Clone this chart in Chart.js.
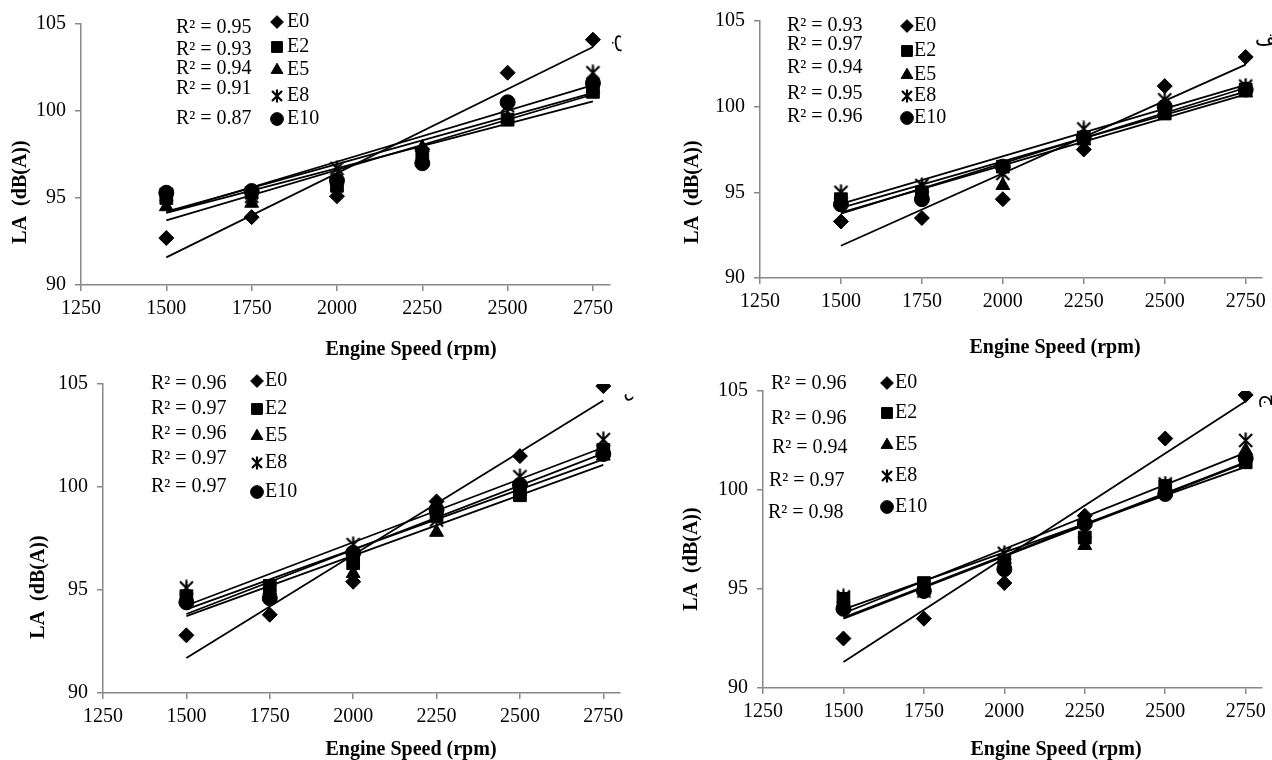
<!DOCTYPE html>
<html>
<head>
<meta charset="utf-8">
<script src="https://cdn.jsdelivr.net/npm/chart.js@4.4.0/dist/chart.umd.min.js"></script>
<style>
html, body { margin: 0; padding: 0; background: #fff; }
body { width: 1272px; height: 760px; position: relative; overflow: hidden; }
canvas { position: absolute; }
</style>
</head>
<body>
<canvas id="c1" width="640" height="360" style="left:0;top:0"></canvas>
<canvas id="c2" width="632" height="360" style="left:640px;top:0"></canvas>
<canvas id="c3" width="640" height="400" style="left:0;top:360px"></canvas>
<canvas id="c4" width="632" height="400" style="left:640px;top:360px"></canvas>
<script>
// shared axes
const speeds = [1500, 1750, 2000, 2250, 2500, 2750];
const xTicks = [1250, 1500, 1750, 2000, 2250, 2500, 2750];
const yTicks = [90, 95, 100, 105];
const fuels = ['E0', 'E2', 'E5', 'E8', 'E10'];

// panel ب (top left)
const p1E0 = [92.7, 93.9, 95.1, 97.8, 102.2, 104.1];
const p1E2 = [95.0, 95.3, 95.7, 97.5, 99.5, 101.1];
const p1E5 = [94.5, 94.7, 96.0, 97.9, 99.6, 101.3];
const p1E8 = [95.2, 95.1, 96.7, 97.4, 100.3, 102.2];
const p1E10 = [95.3, 95.4, 96.0, 97.0, 100.5, 101.6];
const p1R2 = ['0.95', '0.93', '0.94', '0.91', '0.87'];

// panel الف (top right)
const p2E0 = [93.3, 93.5, 94.6, 97.5, 101.2, 102.9];
const p2E2 = [94.6, 95.0, 96.5, 98.2, 99.6, 101.0];
const p2E5 = [94.4, 95.2, 95.4, 98.0, 99.8, 100.8];
const p2E8 = [95.0, 95.4, 96.1, 98.7, 100.4, 101.2];
const p2E10 = [94.3, 94.6, 96.5, 98.2, 100.0, 101.0];
const p2R2 = ['0.93', '0.97', '0.94', '0.95', '0.96'];

// panel د (bottom left)
const p3E0 = [92.8, 93.8, 95.4, 99.3, 101.5, 104.9];
const p3E2 = [94.7, 95.2, 96.3, 98.6, 99.6, 101.8];
const p3E5 = [94.5, 95.0, 95.8, 97.8, 99.8, 101.5];
const p3E8 = [95.1, 95.0, 97.2, 98.4, 100.5, 102.3];
const p3E10 = [94.4, 94.6, 96.8, 98.9, 100.1, 101.6];
const p3R2 = ['0.96', '0.97', '0.96', '0.97', '0.97'];

// panel ج (bottom right)
const p4E0 = [92.5, 93.5, 95.3, 98.7, 102.6, 104.8];
const p4E2 = [94.5, 95.3, 96.4, 97.6, 100.2, 101.4];
const p4E5 = [94.1, 95.1, 96.5, 97.2, 100.0, 102.0];
const p4E8 = [94.6, 94.9, 96.8, 97.9, 100.3, 102.5];
const p4E10 = [94.0, 94.9, 96.0, 98.3, 99.8, 101.6];
const p4R2 = ['0.96', '0.96', '0.94', '0.97', '0.98'];

const serif = "'Liberation Serif', 'Times New Roman', serif";

// Excel style star: an X with a vertical bar through it
function starMark(size) {
  const c = document.createElement('canvas');
  c.width = size; c.height = size;
  const g = c.getContext('2d');
  const m = 2, s = size - 2;
  g.strokeStyle = '#000';
  g.lineWidth = 2.2;
  g.beginPath();
  g.moveTo(m, m); g.lineTo(s, s);
  g.moveTo(s, m); g.lineTo(m, s);
  g.moveTo(size / 2, 0.5); g.lineTo(size / 2, size - 0.5);
  g.stroke();
  return c;
}
const starBig = starMark(17);
const starSmall = starMark(14);

const markStyle = ['rectRot', 'rect', 'triangle', starBig, 'circle'];
const legendStyle = ['rectRot', 'rect', 'triangle', starSmall, 'circle'];
const markSize = [7.5, 9, 8, 8, 7.5];

// linear trendline, same as Excel
function fit(vals) {
  const n = speeds.length;
  const mx = speeds.reduce((a, b) => a + b, 0) / n;
  const my = vals.reduce((a, b) => a + b, 0) / n;
  let sxy = 0, sxx = 0;
  speeds.forEach((x, i) => { sxy += (x - mx) * (vals[i] - my); sxx += (x - mx) * (x - mx); });
  const b = sxy / sxx, a = my - b * mx;
  return [{ x: speeds[0], y: a + b * speeds[0] }, { x: speeds[n - 1], y: a + b * speeds[n - 1] }];
}

function mark(ctx, style, r, x, y) {
  ctx.save();
  ctx.fillStyle = '#000';
  ctx.strokeStyle = '#000';
  ctx.lineWidth = 1;
  Chart.helpers.drawPoint(ctx, { pointStyle: style, radius: r, rotation: 0, borderWidth: 1 }, x, y);
  ctx.restore();
}

const panelText = {
  id: 'panelText',
  afterDraw(chart) {
    const o = chart.options.plugins.panelText;
    const ctx = chart.ctx;
    ctx.save();
    ctx.fillStyle = '#000';
    ctx.textBaseline = 'middle';
    ctx.textAlign = 'left';
    ctx.font = '20px ' + serif;
    o.r2.forEach((r, i) => {
      ctx.fillText('R\u00b2 = ' + r, o.r2x[i], o.r2y[i]);
      mark(ctx, legendStyle[i], markSize[i] * 0.85, o.mx, o.my[i]);
      ctx.fillText(fuels[i], o.tx, o.my[i]);
    });
    // axis titles
    ctx.font = 'bold 20px ' + serif;
    ctx.textAlign = 'center';
    ctx.fillText('Engine Speed (rpm)', o.xTitle[0], o.xTitle[1]);
    ctx.save();
    ctx.translate(o.yTitle[0], o.yTitle[1]);
    ctx.rotate(-Math.PI / 2);
    ctx.fillText('LA  (dB(A))', 0, 0);
    ctx.restore();
    // panel letter
    ctx.font = '20px ' + serif;
    ctx.translate(o.tag.x, o.tag.y);
    if (o.tag.rot) ctx.rotate(Math.PI / 2);
    ctx.textAlign = o.tag.rot ? 'center' : 'left';
    ctx.fillText(o.tag.text, 0, 0);
    ctx.restore();
  }
};

function makePanel(id, p) {
  const cv = document.getElementById(id);
  const W = cv.width, H = cv.height;
  const datasets = [];
  p.series.forEach((vals, i) => {
    datasets.push({
      type: 'scatter',
      data: speeds.map((x, k) => ({ x: x, y: vals[k] })),
      pointStyle: markStyle[i],
      pointRadius: markSize[i],
      backgroundColor: '#000',
      borderColor: '#000',
      borderWidth: 1
    });
    datasets.push({
      type: 'line',
      data: fit(vals),
      borderColor: '#000',
      borderWidth: 1.8,
      pointRadius: 0,
      fill: false
    });
  });
  new Chart(cv, {
    type: 'scatter',
    data: { datasets: datasets },
    options: {
      responsive: false,
      animation: false,
      devicePixelRatio: 1,
      layout: { padding: { left: 0, top: p.area.top, right: W - p.area.right, bottom: 0 } },
      plugins: { legend: { display: false }, tooltip: { enabled: false }, panelText: p },
      scales: {
        x: {
          type: 'linear', min: 1250, max: 2800,
          afterBuildTicks: s => { s.ticks = xTicks.map(v => ({ value: v })); },
          afterFit: s => { s.height = H - p.area.bottom; },
          grid: { drawOnChartArea: false, tickLength: 6, color: '#888', lineWidth: 1.5 },
          border: { color: '#888', width: 1.5 },
          ticks: { color: '#000', font: { family: serif, size: 20 }, padding: 6, maxRotation: 0,
                   callback: v => String(v) }
        },
        y: {
          min: 90, max: 105,
          afterBuildTicks: s => { s.ticks = yTicks.map(v => ({ value: v })); },
          afterFit: s => { s.width = p.area.left; },
          grid: { drawOnChartArea: false, tickLength: 6, color: '#888', lineWidth: 1.5 },
          border: { color: '#888', width: 1.5 },
          ticks: { color: '#000', font: { family: serif, size: 20 }, padding: 9,
                   callback: v => String(v) }
        }
      }
    },
    plugins: [panelText]
  });
}

makePanel('c1', {
  area: { left: 81, right: 610, top: 24, bottom: 285 },
  series: [p1E0, p1E2, p1E5, p1E8, p1E10], r2: p1R2,
  r2x: [176, 176, 176, 176, 176], r2y: [28, 50, 69, 89, 119],
  mx: 277, tx: 287, my: [22, 47, 70, 96, 119],
  yTitle: [21, 192], xTitle: [411, 350],
  tag: { text: 'ب', x: 620, y: 43, rot: true }
});
makePanel('c2', {
  area: { left: 120, right: 623, top: 19, bottom: 278 },
  series: [p2E0, p2E2, p2E5, p2E8, p2E10], r2: p2R2,
  r2x: [147, 147, 147, 147, 147], r2y: [26, 45, 68, 94, 117],
  mx: 267, tx: 274, my: [26, 51, 75, 96, 118],
  yTitle: [53, 192], xTitle: [415, 348],
  tag: { text: 'الف', x: 615, y: 40, rot: false }
});
makePanel('c3', {
  area: { left: 103, right: 620, top: 24, bottom: 333 },
  series: [p3E0, p3E2, p3E5, p3E8, p3E10], r2: p3R2,
  r2x: [151, 151, 151, 151, 151], r2y: [24, 49, 74, 99, 127],
  mx: 257, tx: 265, my: [21, 49, 76, 103, 132],
  yTitle: [39, 227], xTitle: [411, 390],
  tag: { text: 'د', x: 630, y: 37, rot: true }
});
makePanel('c4', {
  area: { left: 123, right: 623, top: 31, bottom: 328 },
  series: [p4E0, p4E2, p4E5, p4E8, p4E10], r2: p4R2,
  r2x: [131, 131, 132, 129, 128], r2y: [24, 59, 88, 121, 153],
  mx: 247, tx: 255, my: [23, 53, 85, 116, 147],
  yTitle: [52, 199], xTitle: [416, 390],
  tag: { text: 'ج', x: 629, y: 40, rot: true }
});
</script>
</body>
</html>
